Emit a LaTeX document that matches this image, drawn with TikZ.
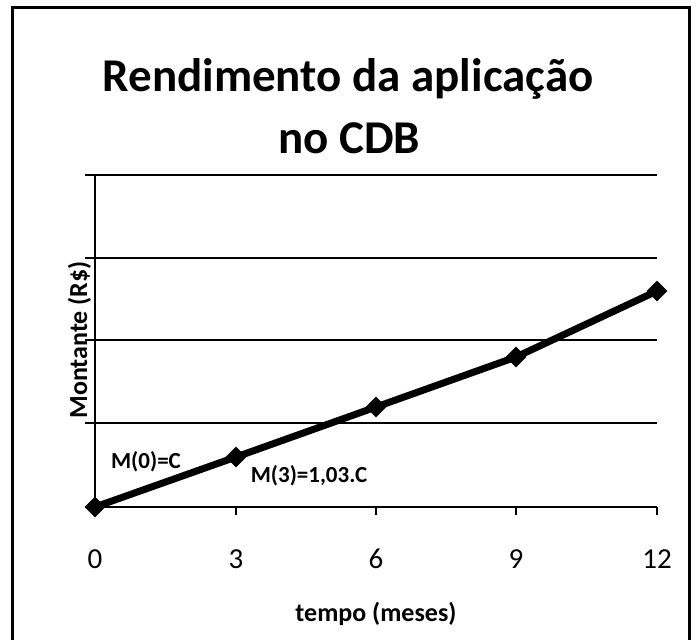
\documentclass[tikz,border=0pt]{standalone}
\usepackage{fontspec}
\setmainfont{Carlito}
\usetikzlibrary{shapes.geometric}

\begin{document}
\begin{tikzpicture}[
    x = 1pt, y = -1pt, % pixel units, y grows downward
    grade/.style = {line width=1.4pt}, % grid and axis lines
    serie/.style = {line width=7pt, line join=round}, % data line
    ponto/.style = {diamond, fill=black, inner sep=0pt, minimum size=21pt}, % markers
    rotulo/.style = {font=\fontsize{23}{27}\selectfont\bfseries, anchor=base}, % point labels
    titulo/.style = {font=\fontsize{47}{56}\selectfont\bfseries, anchor=base}
    ]

  \useasboundingbox (0,0) rectangle (696,640);

  % frame (bottom edge is cut off)
  \draw[line width=3pt] (12,640) -- (12,7) -- (689,7) -- (689,640);

  % title
  \node[titulo] (titulo1) at (348,91) {Rendimento da aplicação};
  \node[titulo] (titulo2) at (349,153) {no CDB};

  % grid
  \foreach \yy in {175,258,340,423}
    \draw[grade] (85,\yy) -- (657,\yy);

  % axes
  \draw[grade] (95,175) -- (95,507);
  \draw[grade] (85,507) -- (657,507);
  \foreach \mes/\xx in {0/95,3/236,6/376,9/516,12/657}{
    \draw[grade] (\xx,507) -- (\xx,515);
    \node[font=\fontsize{29}{34}\selectfont, anchor=base] (t\mes) at (\xx,568) {\mes};
  }

  \node[rotate=90, anchor=base, font=\fontsize{26}{30}\selectfont\bfseries] (eixoy) at (87,340) {Montante (R\$)};
  \node[anchor=base, font=\fontsize{26}{30}\selectfont\bfseries] (eixox) at (376,621) {tempo (meses)};

  % data
  \node[ponto] (m0) at (95,507) {};
  \node[ponto] (m3) at (236,457) {};
  \node[ponto] (m6) at (376,407) {};
  \node[ponto] (m9) at (516,357) {};
  \node[ponto] (m12) at (657,291) {};

  \draw[serie] (m0.center) -- (m3.center) -- (m6.center) -- (m9.center) -- (m12.center);

  \node[rotulo] (r0) at (146,468) {M(0)=C};
  \node[rotulo] (r3) at (309,482) {M(3)=1,03.C};

\end{tikzpicture}
\end{document}
